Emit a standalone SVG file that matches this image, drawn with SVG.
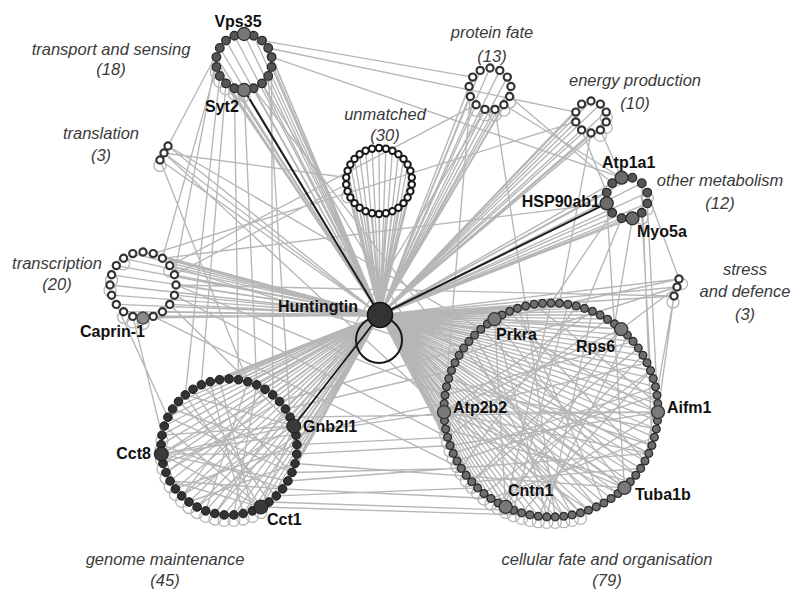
<svg xmlns="http://www.w3.org/2000/svg" width="798" height="590" viewBox="0 0 798 590">
<style>
.e{fill:none;stroke:#b6b6b6;stroke-width:1.35}
.d{fill:none;stroke:#1e1e1e;stroke-width:2}
.lp{fill:none;stroke:#b6b6b6;stroke-width:1.3}
.cat{font-family:"Liberation Sans",Arial,sans-serif;font-style:italic;font-size:16.5px;fill:#3a3a3a;text-anchor:middle}
.lb{font-family:"Liberation Sans",Arial,sans-serif;font-weight:bold;font-size:16px;fill:#111}
</style>
<defs>
<circle id="cf" r="3.9" fill="#6e6e6e" stroke="#2e2e2e" stroke-width="1.3"/>
<circle id="cfL" r="6.5" fill="#7a7a7a" stroke="#333" stroke-width="1.3"/>
<circle id="gm" r="4.3" fill="#333" stroke="#1a1a1a" stroke-width="1"/>
<circle id="gmL" r="7" fill="#3a3a3a" stroke="#1a1a1a" stroke-width="1"/>
<circle id="ts" r="4.3" fill="#555" stroke="#2a2a2a" stroke-width="1.3"/>
<circle id="tsL" r="6.5" fill="#777" stroke="#333" stroke-width="1.3"/>
<circle id="omL" r="6.5" fill="#6a6a6a" stroke="#2a2a2a" stroke-width="1.3"/>
<circle id="wo" r="3.2" fill="#fff" stroke="#1a1a1a" stroke-width="2"/>
<circle id="wp" r="3.6" fill="#fff" stroke="#333" stroke-width="2.2"/>
<circle id="tcL" r="6" fill="#8a8a8a" stroke="#444" stroke-width="1.3"/>
<circle id="lp" cy="5.5" r="6" class="lp"/>
</defs>
<rect width="798" height="590" fill="#fff"/>

<g id="connectors">
<path class="e" d="M380 315L244 34M380 315L253.6 35.7M380 315L262 40.6M380 315L268.2 48M380 315L271.6 57.1M380 315L271.6 66.9M380 315L268.2 76M380 315L262 83.4M380 315L253.6 88.3M380 315L234.4 88.3M380 315L226 83.4M380 315L219.8 76M380 315L216.4 66.9M380 315L216.4 57.1M380 315L219.8 48M380 315L226 40.6M380 315L234.4 35.7"/>
<path class="e" d="M380 315L379 148M380 315L385.9 148.7M380 315L392.4 150.8M380 315L398.4 154.3M380 315L403.5 158.9M380 315L407.6 164.5M380 315L410.4 170.8M380 315L411.8 177.5M380 315L411.8 184.5M380 315L410.4 191.2M380 315L407.6 197.5M380 315L403.5 203.1M380 315L398.4 207.7M380 315L392.4 211.2M380 315L385.9 213.3M380 315L379 214M380 315L372.1 213.3M380 315L365.6 211.2M380 315L359.6 207.7M380 315L354.5 203.1M380 315L350.4 197.5M380 315L347.6 191.2M380 315L346.2 184.5M380 315L346.2 177.5M380 315L347.6 170.8M380 315L350.4 164.5M380 315L354.5 158.9M380 315L359.6 154.3M380 315L365.6 150.8M380 315L372.1 148.7"/>
<path class="e" d="M380 315L490 68M380 315L499.8 70.4M380 315L507.3 77.1M380 315L510.9 86.5M380 315L509.6 96.5M380 315L503.9 104.7M380 315L495 109.4M380 315L485 109.4M380 315L476.1 104.7M380 315L470.4 96.5M380 315L469.1 86.5M380 315L472.7 77.1M380 315L480.2 70.4"/>
<path class="e" d="M380 315L591 101M380 315L600.4 104.1M380 315L606.2 112.1M380 315L606.2 121.9M380 315L600.4 129.9M380 315L591 133M380 315L581.6 129.9M380 315L575.8 121.9M380 315L575.8 112.1M380 315L581.6 104.1"/>
<path class="e" d="M380 315L621.6 177.7M380 315L632.4 177.7M380 315L641.8 183.2M380 315L647.3 192.6M380 315L647.3 203.4M380 315L641.8 212.8M380 315L632.4 218.3M380 315L621.6 218.3M380 315L612.2 212.8M380 315L606.7 192.6M380 315L612.2 183.2"/>
<path class="e" d="M380 315L168 146M380 315L164 153M380 315L160 160M380 315L679 279M380 315L677 287M380 315L674 296"/>
<path class="e" d="M380 315L143 252M380 315L153.2 253.6M380 315L162.4 258.3M380 315L169.7 265.6M380 315L174.4 274.8M380 315L176 285M380 315L174.4 295.2M380 315L169.7 304.4M380 315L162.4 311.7M380 315L153.2 316.4M380 315L143 318M380 315L132.8 316.4M380 315L123.6 311.7M380 315L116.3 304.4M380 315L111.6 295.2M380 315L110 285M380 315L111.6 274.8M380 315L116.3 265.6M380 315L123.6 258.3M380 315L132.8 253.6"/>
<path class="e" d="M380 315L229 379M380 315L238.5 379.7M380 315L247.8 381.7M380 315L256.7 384.8M380 315L265 389.3M380 315L272.7 394.9M380 315L279.5 401.5M380 315L285.4 409M380 315L290.1 417.2M380 315L296 435.2M380 315L296.9 444.6M380 315L296.7 454.1M380 315L295 463.5M380 315L292 472.5M380 315L287.9 481M380 315L282.6 488.9M380 315L276.3 495.9M380 315L269 502M380 315L260.9 507M380 315L252.3 510.9M380 315L243.1 513.5M380 315L233.8 514.9M380 315L224.2 514.9M380 315L214.9 513.5M380 315L205.7 510.9M380 315L197.1 507M380 315L189 502M380 315L181.7 495.9M380 315L175.4 488.9M380 315L170.1 481M380 315L166 472.5M380 315L163 463.5M380 315L161.3 454.1M380 315L161.1 444.6M380 315L162 435.2M380 315L164.3 426M380 315L167.9 417.2M380 315L172.6 409M380 315L178.5 401.5M380 315L185.3 394.9M380 315L193 389.3M380 315L201.3 384.8M380 315L210.2 381.7M380 315L219.5 379.7"/>
<path class="e" d="M380 315L551 303M380 315L559.5 303.3M380 315L567.9 304.3M380 315L576.3 306M380 315L584.5 308.4M380 315L592.4 311.3M380 315L600.1 315M380 315L607.5 319.2M380 315L614.6 323.9M380 315L621.2 329.2M380 315L627.4 335.1M380 315L633.1 341.4M380 315L638.3 348.1M380 315L642.9 355.3M380 315L647 362.8M380 315L650.5 370.5M380 315L653.3 378.6M380 315L655.5 386.8M380 315L657 395.2M380 315L657.8 403.6M380 315L658 412.1M380 315L657.5 420.6M380 315L656.3 429M380 315L654.4 437.3M380 315L651.9 445.5M380 315L648.8 453.4M380 315L645 461M380 315L640.7 468.4M380 315L635.8 475.3M380 315L630.3 481.8M380 315L624.4 487.9M380 315L618 493.5M380 315L611.1 498.5M380 315L603.9 503M380 315L596.3 506.9M380 315L588.5 510.2M380 315L580.4 512.9M380 315L572.1 514.9M380 315L563.7 516.2M380 315L555.2 516.9M380 315L546.8 516.9M380 315L538.3 516.2M380 315L529.9 514.9M380 315L521.6 512.9M380 315L513.5 510.2M380 315L505.7 506.9M380 315L498.1 503M380 315L490.9 498.5M380 315L484 493.5M380 315L477.6 487.9M380 315L471.7 481.8M380 315L466.2 475.3M380 315L461.3 468.4M380 315L457 461M380 315L453.2 453.4M380 315L450.1 445.5M380 315L447.6 437.3M380 315L445.7 429M380 315L444.5 420.6M380 315L444 412.1M380 315L444.2 403.6M380 315L445 395.2M380 315L446.5 386.8M380 315L448.7 378.6M380 315L451.5 370.5M380 315L455 362.8M380 315L459.1 355.3M380 315L463.7 348.1M380 315L468.9 341.4M380 315L474.6 335.1M380 315L480.8 329.2M380 315L487.4 323.9M380 315L494.5 319.2M380 315L501.9 315M380 315L509.6 311.3M380 315L517.5 308.4M380 315L525.7 306M380 315L534.1 304.3M380 315L542.5 303.3"/>
<path class="e" d="M161.3 454.1L293.7 426M161.3 454.1L260.9 507M161.3 454.1L296.7 454.1M161.3 454.1L272.7 394.9M161.3 454.1L287.9 481M293.7 426L260.9 507M293.7 426L181.7 495.9M293.7 426L185.3 394.9M293.7 426L162 435.2M260.9 507L164.3 426M260.9 507L185.3 394.9M260.9 507L170.1 481M247.8 381.7L205.7 510.9M265 389.3L181.7 495.9M279.5 401.5L166 472.5M296.7 454.1L172.6 409M292 472.5L201.3 384.8M282.6 488.9L161.1 444.6M276.3 495.9L178.5 401.5M252.3 510.9L219.5 379.7M233.8 514.9L256.7 384.8M214.9 513.5L285.4 409M197.1 507L296 435.2M189 502L295 463.5M175.4 488.9L296.9 444.6M170.1 481L282.6 488.9M163 463.5L290.1 417.2M167.9 417.2L292 472.5M193 389.3L269 502M210.2 381.7L243.1 513.5"/>
<path class="e" d="M494.5 319.2L621.2 329.2M494.5 319.2L658 412.1M494.5 319.2L624.4 487.9M494.5 319.2L505.7 506.9M494.5 319.2L546.8 516.9M621.2 329.2L444 412.1M621.2 329.2L505.7 506.9M621.2 329.2L471.7 481.8M658 412.1L444 412.1M658 412.1L505.7 506.9M658 412.1L450.1 445.5M624.4 487.9L444 412.1M624.4 487.9L455 362.8M505.7 506.9L444 412.1M505.7 506.9L551 303M444 412.1L592.4 311.3M444 412.1L647 362.8M444 412.1L648.8 453.4M444 412.1L588.5 510.2M592.4 311.3L546.8 516.9M638.3 348.1L471.7 481.8M650.5 370.5L484 493.5M657 395.2L457 461M656.3 429L446.5 386.8M648.8 453.4L459.1 355.3M635.8 475.3L480.8 329.2M603.9 503L517.5 308.4M580.4 512.9L451.5 370.5M563.7 516.2L468.9 341.4M538.3 516.2L627.4 335.1M521.6 512.9L650.5 370.5M490.9 498.5L654.4 437.3M471.7 481.8L640.7 468.4M461.3 468.4L576.3 306M453.2 453.4L655.5 386.8M445.7 429L630.3 481.8M444.2 403.6L618 493.5M445 395.2L633.1 341.4M448.7 378.6L651.9 445.5M463.7 348.1L596.3 506.9M474.6 335.1L572.1 514.9M509.6 311.3L645 461M525.7 306L555.2 516.9M534.1 304.3L657.8 403.6M567.9 304.3L513.5 510.2M607.5 319.2L447.6 437.3M642.9 355.3L498.1 503"/>
<path class="e" d="M271.6 57.1L621.6 177.7M268.2 48L575.8 112.1M262 40.6L472.7 77.1M271.6 66.9L272.7 394.9M219.8 76L185.3 394.9M216.4 66.9L162.4 258.3M226 83.4L201.3 384.8M234.4 88.3L238.5 379.7M253.6 88.3L459.1 355.3M262 83.4L446.5 386.8M216.4 57.1L174.4 274.8M268.2 76L290.1 417.2M244 90L256.7 384.8M219.8 48L168 146M168 146L480.8 329.2M164 153L346.2 177.5M164 153L444 412.1M160 160L247.8 381.7M169.7 265.6L459.1 355.3M176 285L445 395.2M174.4 295.2L447.6 437.3M174.4 274.8L346.2 184.5M169.7 304.4L293.7 426M162.4 258.3L606.7 203.4M153.2 253.6L575.8 121.9M153.2 316.4L461.3 468.4M132.8 316.4L162 435.2M116.3 304.4L167.9 417.2M162.4 311.7L494.5 319.2"/>
<path class="e" d="M296.9 444.6L447.6 437.3M296.7 454.1L450.1 445.5M292 472.5L461.3 468.4M282.6 488.9L490.9 498.5M269 502L513.5 510.2M296 435.2L444.2 403.6M285.4 409L451.5 370.5M279.5 401.5L463.7 348.1M295 463.5L624.4 487.9M287.9 481L648.8 453.4M161.3 454.1L444 412.1M260.9 507L563.7 516.2M290.1 417.2L658 412.1M276.3 495.9L477.6 487.9"/>
<path class="e" d="M632.4 218.3L614.6 323.9M621.6 218.3L584.5 308.4M641.8 212.8L650.5 370.5M647.3 203.4L658 412.1M612.2 212.8L551 303M621.6 177.7L503.9 104.7M612.2 183.2L509.6 96.5M606.7 192.6L581.6 129.9M606.7 203.4L624.4 487.9M647.3 192.6L679 279M641.8 183.2L651.9 445.5M591 133L559.5 303.3M600.4 129.9L621.6 177.7M495 109.4L525.7 306M485 109.4L293.7 426M476.1 104.7L169.7 265.6M470.4 96.5L444 412.1M679 279L494.5 319.2M677 287L459.1 355.3M677 287L621.2 329.2M674 296L658 412.1M674 296L176 285M674 296L645 461"/>
<path class="d" d="M380 315L244 90M380 315L606.7 203.4M380 315L293.7 426"/>
</g>

<g id="self-loops">
<use href="#lp" x="260.9" y="507"/><use href="#lp" x="252.3" y="510.9"/><use href="#lp" x="243.1" y="513.5"/><use href="#lp" x="233.8" y="514.9"/><use href="#lp" x="224.2" y="514.9"/><use href="#lp" x="214.9" y="513.5"/><use href="#lp" x="205.7" y="510.9"/><use href="#lp" x="197.1" y="507"/><use href="#lp" x="189" y="502"/><use href="#lp" x="181.7" y="495.9"/><use href="#lp" x="175.4" y="488.9"/><use href="#lp" x="170.1" y="481"/><use href="#lp" x="166" y="472.5"/><use href="#lp" x="163" y="463.5"/><use href="#lp" x="161.3" y="454.1"/><use href="#lp" x="161.1" y="444.6"/><use href="#lp" x="162" y="435.2"/>
<use href="#lp" x="580.4" y="512.9"/><use href="#lp" x="572.1" y="514.9"/><use href="#lp" x="563.7" y="516.2"/><use href="#lp" x="555.2" y="516.9"/><use href="#lp" x="546.8" y="516.9"/><use href="#lp" x="538.3" y="516.2"/><use href="#lp" x="529.9" y="514.9"/><use href="#lp" x="521.6" y="512.9"/><use href="#lp" x="513.5" y="510.2"/><use href="#lp" x="505.7" y="506.9"/><use href="#lp" x="498.1" y="503"/><use href="#lp" x="490.9" y="498.5"/><use href="#lp" x="484" y="493.5"/><use href="#lp" x="477.6" y="487.9"/><use href="#lp" x="471.7" y="481.8"/><use href="#lp" x="466.2" y="475.3"/><use href="#lp" x="461.3" y="468.4"/><use href="#lp" x="457" y="461"/><use href="#lp" x="453.2" y="453.4"/><use href="#lp" x="450.1" y="445.5"/><use href="#lp" x="447.6" y="437.3"/><use href="#lp" x="445.7" y="429"/><use href="#lp" x="444.5" y="420.6"/>
<use href="#lp" x="169.7" y="265.6"/><use href="#lp" x="143" y="318"/><use href="#lp" x="132.8" y="316.4"/><use href="#lp" x="123.6" y="311.7"/><use href="#lp" x="110" y="285"/><use href="#lp" x="111.6" y="274.8"/><use href="#lp" x="123.6" y="258.3"/>
<use href="#lp" x="244" y="90"/><use href="#lp" x="234.4" y="88.3"/><use href="#lp" x="226" y="83.4"/><use href="#lp" x="219.8" y="76"/><use href="#lp" x="216.4" y="66.9"/>
<use href="#lp" x="509.6" y="96.5"/><use href="#lp" x="503.9" y="104.7"/><use href="#lp" x="495" y="109.4"/><use href="#lp" x="485" y="109.4"/><use href="#lp" x="476.1" y="104.7"/>
<use href="#lp" x="606.2" y="112.1"/><use href="#lp" x="606.2" y="121.9"/><use href="#lp" x="600.4" y="129.9"/>
<use href="#lp" x="647.3" y="192.6"/><use href="#lp" x="647.3" y="203.4"/><use href="#lp" x="641.8" y="212.8"/>
<use href="#lp" x="160" y="160"/><use href="#lp" x="347.6" y="191.2"/>
<circle class="lp" cx="682" cy="284" r="5.5"/><circle class="lp" cx="673" cy="302" r="6"/>
</g>

<g id="cluster-transport">
<use href="#ts" x="253.6" y="35.7"/><use href="#ts" x="262" y="40.6"/><use href="#ts" x="268.2" y="48"/><use href="#ts" x="271.6" y="57.1"/><use href="#ts" x="271.6" y="66.9"/><use href="#ts" x="268.2" y="76"/><use href="#ts" x="262" y="83.4"/><use href="#ts" x="253.6" y="88.3"/><use href="#ts" x="234.4" y="88.3"/><use href="#ts" x="226" y="83.4"/><use href="#ts" x="219.8" y="76"/><use href="#ts" x="216.4" y="66.9"/><use href="#ts" x="216.4" y="57.1"/><use href="#ts" x="219.8" y="48"/><use href="#ts" x="226" y="40.6"/><use href="#ts" x="234.4" y="35.7"/>
</g>
<g id="node-Vps35"><use href="#tsL" x="244" y="34"/><text class="lb" x="238" y="27" text-anchor="middle">Vps35</text></g>
<g id="node-Syt2"><use href="#tsL" x="244" y="90"/><text class="lb" x="205" y="112">Syt2</text></g>

<g id="cluster-unmatched">
<use href="#wo" x="379" y="148"/><use href="#wo" x="385.9" y="148.7"/><use href="#wo" x="392.4" y="150.8"/><use href="#wo" x="398.4" y="154.3"/><use href="#wo" x="403.5" y="158.9"/><use href="#wo" x="407.6" y="164.5"/><use href="#wo" x="410.4" y="170.8"/><use href="#wo" x="411.8" y="177.5"/><use href="#wo" x="411.8" y="184.5"/><use href="#wo" x="410.4" y="191.2"/><use href="#wo" x="407.6" y="197.5"/><use href="#wo" x="403.5" y="203.1"/><use href="#wo" x="398.4" y="207.7"/><use href="#wo" x="392.4" y="211.2"/><use href="#wo" x="385.9" y="213.3"/><use href="#wo" x="379" y="214"/><use href="#wo" x="372.1" y="213.3"/><use href="#wo" x="365.6" y="211.2"/><use href="#wo" x="359.6" y="207.7"/><use href="#wo" x="354.5" y="203.1"/><use href="#wo" x="350.4" y="197.5"/><use href="#wo" x="347.6" y="191.2"/><use href="#wo" x="346.2" y="184.5"/><use href="#wo" x="346.2" y="177.5"/><use href="#wo" x="347.6" y="170.8"/><use href="#wo" x="350.4" y="164.5"/><use href="#wo" x="354.5" y="158.9"/><use href="#wo" x="359.6" y="154.3"/><use href="#wo" x="365.6" y="150.8"/><use href="#wo" x="372.1" y="148.7"/>
</g>

<g id="cluster-protein-fate">
<use href="#wp" x="490" y="68"/><use href="#wp" x="499.8" y="70.4"/><use href="#wp" x="507.3" y="77.1"/><use href="#wp" x="510.9" y="86.5"/><use href="#wp" x="509.6" y="96.5"/><use href="#wp" x="503.9" y="104.7"/><use href="#wp" x="495" y="109.4"/><use href="#wp" x="485" y="109.4"/><use href="#wp" x="476.1" y="104.7"/><use href="#wp" x="470.4" y="96.5"/><use href="#wp" x="469.1" y="86.5"/><use href="#wp" x="472.7" y="77.1"/><use href="#wp" x="480.2" y="70.4"/>
</g>

<g id="cluster-energy">
<use href="#wp" x="591" y="101"/><use href="#wp" x="600.4" y="104.1"/><use href="#wp" x="606.2" y="112.1"/><use href="#wp" x="606.2" y="121.9"/><use href="#wp" x="600.4" y="129.9"/><use href="#wp" x="591" y="133"/><use href="#wp" x="581.6" y="129.9"/><use href="#wp" x="575.8" y="121.9"/><use href="#wp" x="575.8" y="112.1"/><use href="#wp" x="581.6" y="104.1"/>
</g>

<g id="cluster-other-metabolism">
<use href="#ts" x="632.4" y="177.7"/><use href="#ts" x="641.8" y="183.2"/><use href="#ts" x="647.3" y="192.6"/><use href="#ts" x="647.3" y="203.4"/><use href="#ts" x="641.8" y="212.8"/><use href="#ts" x="621.6" y="218.3"/><use href="#ts" x="612.2" y="212.8"/><use href="#ts" x="606.7" y="192.6"/><use href="#ts" x="612.2" y="183.2"/>
</g>
<g id="node-Atp1a1"><use href="#omL" x="621.6" y="177.7"/><text class="lb" x="602" y="168">Atp1a1</text></g>
<g id="node-HSP90ab1"><use href="#omL" x="606.7" y="203.4"/><text class="lb" x="600" y="207" text-anchor="end">HSP90ab1</text></g>
<g id="node-Myo5a"><use href="#omL" x="632.4" y="218.3"/><text class="lb" x="637" y="237">Myo5a</text></g>

<g id="cluster-translation">
<use href="#wp" x="168" y="146"/><use href="#wp" x="164" y="153"/><use href="#wp" x="160" y="160"/>
</g>

<g id="cluster-stress">
<use href="#wp" x="679" y="279"/><use href="#wp" x="677" y="287"/><use href="#wp" x="674" y="296"/>
</g>

<g id="cluster-transcription">
<use href="#wp" x="143" y="252"/><use href="#wp" x="153.2" y="253.6"/><use href="#wp" x="162.4" y="258.3"/><use href="#wp" x="169.7" y="265.6"/><use href="#wp" x="174.4" y="274.8"/><use href="#wp" x="176" y="285"/><use href="#wp" x="174.4" y="295.2"/><use href="#wp" x="169.7" y="304.4"/><use href="#wp" x="162.4" y="311.7"/><use href="#wp" x="153.2" y="316.4"/><use href="#wp" x="132.8" y="316.4"/><use href="#wp" x="123.6" y="311.7"/><use href="#wp" x="116.3" y="304.4"/><use href="#wp" x="111.6" y="295.2"/><use href="#wp" x="110" y="285"/><use href="#wp" x="111.6" y="274.8"/><use href="#wp" x="116.3" y="265.6"/><use href="#wp" x="123.6" y="258.3"/><use href="#wp" x="132.8" y="253.6"/>
</g>
<g id="node-Caprin-1"><use href="#tcL" x="143" y="318"/><text class="lb" x="80" y="337">Caprin-1</text></g>

<g id="cluster-genome">
<use href="#gm" x="229" y="379"/><use href="#gm" x="238.5" y="379.7"/><use href="#gm" x="247.8" y="381.7"/><use href="#gm" x="256.7" y="384.8"/><use href="#gm" x="265" y="389.3"/><use href="#gm" x="272.7" y="394.9"/><use href="#gm" x="279.5" y="401.5"/><use href="#gm" x="285.4" y="409"/><use href="#gm" x="290.1" y="417.2"/><use href="#gm" x="296" y="435.2"/><use href="#gm" x="296.9" y="444.6"/><use href="#gm" x="296.7" y="454.1"/><use href="#gm" x="295" y="463.5"/><use href="#gm" x="292" y="472.5"/><use href="#gm" x="287.9" y="481"/><use href="#gm" x="282.6" y="488.9"/><use href="#gm" x="276.3" y="495.9"/><use href="#gm" x="269" y="502"/><use href="#gm" x="252.3" y="510.9"/><use href="#gm" x="243.1" y="513.5"/><use href="#gm" x="233.8" y="514.9"/><use href="#gm" x="224.2" y="514.9"/><use href="#gm" x="214.9" y="513.5"/><use href="#gm" x="205.7" y="510.9"/><use href="#gm" x="197.1" y="507"/><use href="#gm" x="189" y="502"/><use href="#gm" x="181.7" y="495.9"/><use href="#gm" x="175.4" y="488.9"/><use href="#gm" x="170.1" y="481"/><use href="#gm" x="166" y="472.5"/><use href="#gm" x="163" y="463.5"/><use href="#gm" x="161.1" y="444.6"/><use href="#gm" x="162" y="435.2"/><use href="#gm" x="164.3" y="426"/><use href="#gm" x="167.9" y="417.2"/><use href="#gm" x="172.6" y="409"/><use href="#gm" x="178.5" y="401.5"/><use href="#gm" x="185.3" y="394.9"/><use href="#gm" x="193" y="389.3"/><use href="#gm" x="201.3" y="384.8"/><use href="#gm" x="210.2" y="381.7"/><use href="#gm" x="219.5" y="379.7"/>
</g>
<g id="node-Cct8"><use href="#gmL" x="161.3" y="454.1"/><text class="lb" x="151" y="459" text-anchor="end">Cct8</text></g>
<g id="node-Gnb2l1"><use href="#gmL" x="293.7" y="426"/><text class="lb" x="303" y="432">Gnb2l1</text></g>
<g id="node-Cct1"><use href="#gmL" x="260.9" y="507"/><text class="lb" x="267" y="525">Cct1</text></g>

<g id="cluster-cellular">
<use href="#cf" x="551" y="303"/><use href="#cf" x="559.5" y="303.3"/><use href="#cf" x="567.9" y="304.3"/><use href="#cf" x="576.3" y="306"/><use href="#cf" x="584.5" y="308.4"/><use href="#cf" x="592.4" y="311.3"/><use href="#cf" x="600.1" y="315"/><use href="#cf" x="607.5" y="319.2"/><use href="#cf" x="614.6" y="323.9"/><use href="#cf" x="627.4" y="335.1"/><use href="#cf" x="633.1" y="341.4"/><use href="#cf" x="638.3" y="348.1"/><use href="#cf" x="642.9" y="355.3"/><use href="#cf" x="647" y="362.8"/><use href="#cf" x="650.5" y="370.5"/><use href="#cf" x="653.3" y="378.6"/><use href="#cf" x="655.5" y="386.8"/><use href="#cf" x="657" y="395.2"/><use href="#cf" x="657.8" y="403.6"/><use href="#cf" x="657.5" y="420.6"/><use href="#cf" x="656.3" y="429"/><use href="#cf" x="654.4" y="437.3"/><use href="#cf" x="651.9" y="445.5"/><use href="#cf" x="648.8" y="453.4"/><use href="#cf" x="645" y="461"/><use href="#cf" x="640.7" y="468.4"/><use href="#cf" x="635.8" y="475.3"/><use href="#cf" x="630.3" y="481.8"/><use href="#cf" x="618" y="493.5"/><use href="#cf" x="611.1" y="498.5"/><use href="#cf" x="603.9" y="503"/><use href="#cf" x="596.3" y="506.9"/><use href="#cf" x="588.5" y="510.2"/><use href="#cf" x="580.4" y="512.9"/><use href="#cf" x="572.1" y="514.9"/><use href="#cf" x="563.7" y="516.2"/><use href="#cf" x="555.2" y="516.9"/><use href="#cf" x="546.8" y="516.9"/><use href="#cf" x="538.3" y="516.2"/><use href="#cf" x="529.9" y="514.9"/><use href="#cf" x="521.6" y="512.9"/><use href="#cf" x="513.5" y="510.2"/><use href="#cf" x="498.1" y="503"/><use href="#cf" x="490.9" y="498.5"/><use href="#cf" x="484" y="493.5"/><use href="#cf" x="477.6" y="487.9"/><use href="#cf" x="471.7" y="481.8"/><use href="#cf" x="466.2" y="475.3"/><use href="#cf" x="461.3" y="468.4"/><use href="#cf" x="457" y="461"/><use href="#cf" x="453.2" y="453.4"/><use href="#cf" x="450.1" y="445.5"/><use href="#cf" x="447.6" y="437.3"/><use href="#cf" x="445.7" y="429"/><use href="#cf" x="444.5" y="420.6"/><use href="#cf" x="444.2" y="403.6"/><use href="#cf" x="445" y="395.2"/><use href="#cf" x="446.5" y="386.8"/><use href="#cf" x="448.7" y="378.6"/><use href="#cf" x="451.5" y="370.5"/><use href="#cf" x="455" y="362.8"/><use href="#cf" x="459.1" y="355.3"/><use href="#cf" x="463.7" y="348.1"/><use href="#cf" x="468.9" y="341.4"/><use href="#cf" x="474.6" y="335.1"/><use href="#cf" x="480.8" y="329.2"/><use href="#cf" x="487.4" y="323.9"/><use href="#cf" x="501.9" y="315"/><use href="#cf" x="509.6" y="311.3"/><use href="#cf" x="517.5" y="308.4"/><use href="#cf" x="525.7" y="306"/><use href="#cf" x="534.1" y="304.3"/><use href="#cf" x="542.5" y="303.3"/>
</g>
<g id="node-Prkra"><use href="#cfL" x="494.5" y="319.2"/><text class="lb" x="496" y="340">Prkra</text></g>
<g id="node-Rps6"><use href="#cfL" x="621.2" y="329.2"/><text class="lb" x="576" y="352">Rps6</text></g>
<g id="node-Aifm1"><use href="#cfL" x="658" y="412.1"/><text class="lb" x="667" y="413">Aifm1</text></g>
<g id="node-Tuba1b"><use href="#cfL" x="624.4" y="487.9"/><text class="lb" x="635" y="500">Tuba1b</text></g>
<g id="node-Cntn1"><use href="#cfL" x="505.7" y="506.9"/><text class="lb" x="508" y="496">Cntn1</text></g>
<g id="node-Atp2b2"><use href="#cfL" x="444" y="412.1"/><text class="lb" x="453" y="413">Atp2b2</text></g>

<g id="node-Huntingtin">
<circle cx="379" cy="340" r="23" fill="none" stroke="#1a1a1a" stroke-width="2"/>
<circle cx="380" cy="315" r="12.5" fill="#333" stroke="#111" stroke-width="1.5"/>
<text class="lb" x="278" y="312">Huntingtin</text>
</g>

<g id="category-labels">
<text class="cat" x="111" y="55">transport and sensing</text><text class="cat" x="111" y="75">(18)</text>
<text class="cat" x="101" y="139">translation</text><text class="cat" x="101" y="161">(3)</text>
<text class="cat" x="385" y="120">unmatched</text><text class="cat" x="385" y="141">(30)</text>
<text class="cat" x="492" y="38">protein fate</text><text class="cat" x="492" y="62">(13)</text>
<text class="cat" x="635" y="86">energy production</text><text class="cat" x="635" y="109">(10)</text>
<text class="cat" x="720" y="186">other metabolism</text><text class="cat" x="720" y="209">(12)</text>
<text class="cat" x="57" y="269">transcription</text><text class="cat" x="57" y="290">(20)</text>
<text class="cat" x="745" y="275">stress</text><text class="cat" x="745" y="297">and defence</text><text class="cat" x="745" y="320">(3)</text>
<text class="cat" x="165" y="565">genome maintenance</text><text class="cat" x="165" y="586">(45)</text>
<text class="cat" x="607" y="565">cellular fate and organisation</text><text class="cat" x="607" y="586">(79)</text>
</g>
</svg>
